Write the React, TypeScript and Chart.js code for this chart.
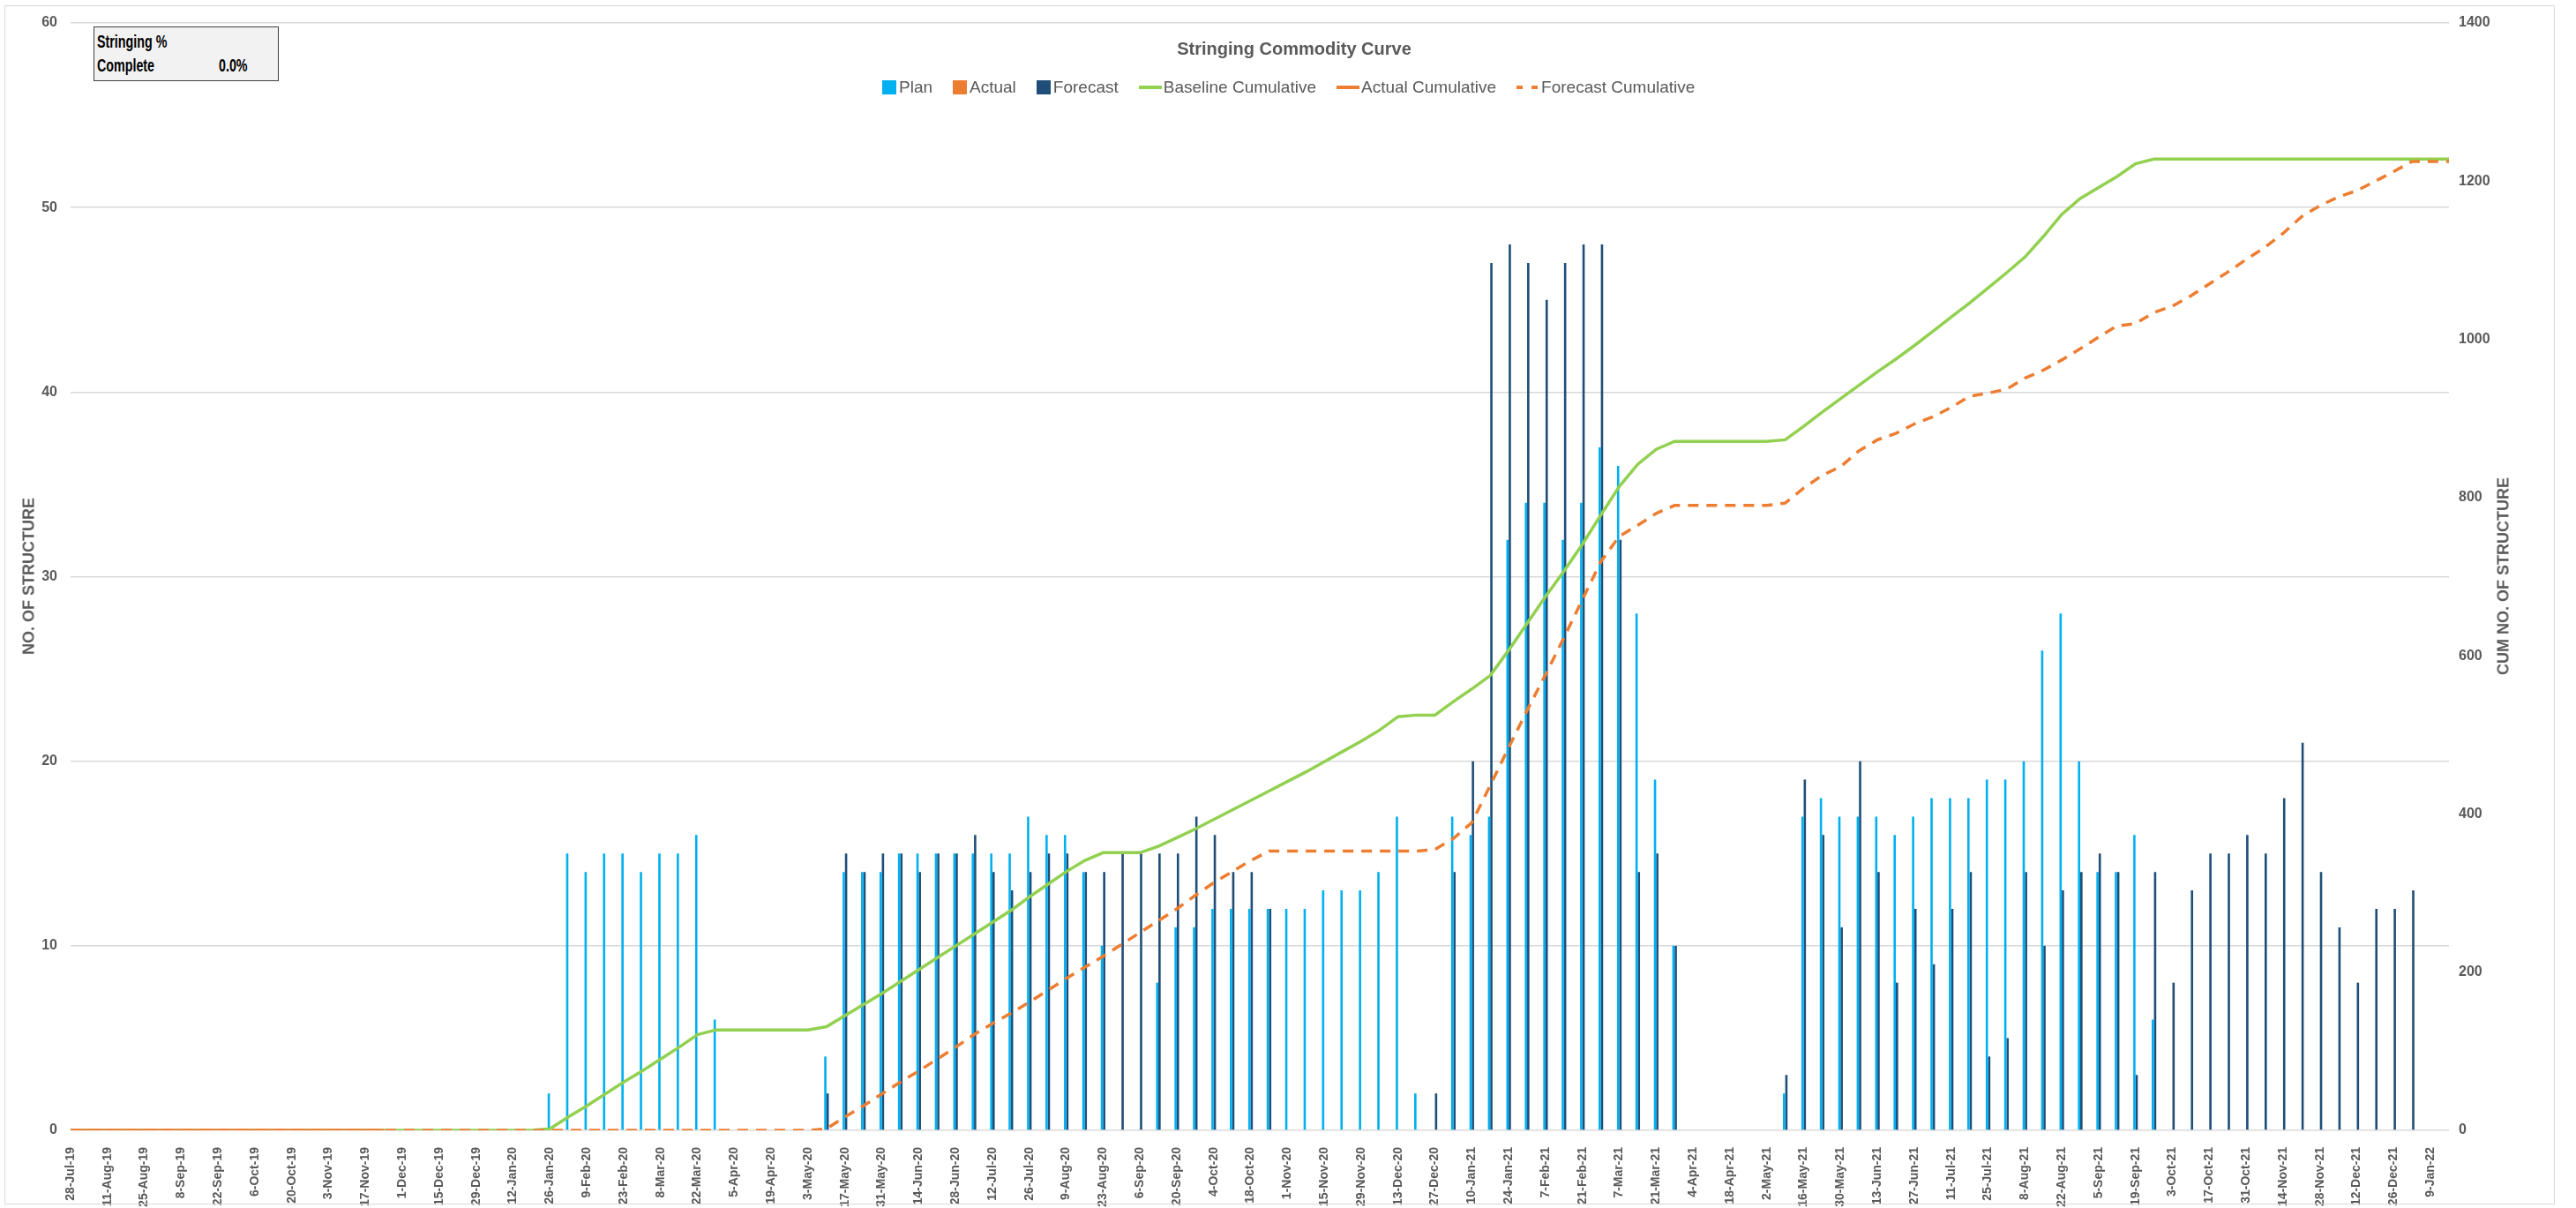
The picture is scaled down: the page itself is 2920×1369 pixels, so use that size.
import React, { useEffect, useRef } from "react";
import { Chart, registerables } from "chart.js";

Chart.register(...registerables);

// ---------- DATA ----------
const categories = [
  "28-Jul-19","4-Aug-19","11-Aug-19","18-Aug-19","25-Aug-19","1-Sep-19","8-Sep-19","15-Sep-19","22-Sep-19","29-Sep-19",
  "6-Oct-19","13-Oct-19","20-Oct-19","27-Oct-19","3-Nov-19","10-Nov-19","17-Nov-19","24-Nov-19","1-Dec-19","8-Dec-19",
  "15-Dec-19","22-Dec-19","29-Dec-19","5-Jan-20","12-Jan-20","19-Jan-20","26-Jan-20","2-Feb-20","9-Feb-20","16-Feb-20",
  "23-Feb-20","1-Mar-20","8-Mar-20","15-Mar-20","22-Mar-20","29-Mar-20","5-Apr-20","12-Apr-20","19-Apr-20","26-Apr-20",
  "3-May-20","10-May-20","17-May-20","24-May-20","31-May-20","7-Jun-20","14-Jun-20","21-Jun-20","28-Jun-20","5-Jul-20",
  "12-Jul-20","19-Jul-20","26-Jul-20","2-Aug-20","9-Aug-20","16-Aug-20","23-Aug-20","30-Aug-20","6-Sep-20","13-Sep-20",
  "20-Sep-20","27-Sep-20","4-Oct-20","11-Oct-20","18-Oct-20","25-Oct-20","1-Nov-20","8-Nov-20","15-Nov-20","22-Nov-20",
  "29-Nov-20","6-Dec-20","13-Dec-20","20-Dec-20","27-Dec-20","3-Jan-21","10-Jan-21","17-Jan-21","24-Jan-21","31-Jan-21",
  "7-Feb-21","14-Feb-21","21-Feb-21","28-Feb-21","7-Mar-21","14-Mar-21","21-Mar-21","28-Mar-21","4-Apr-21","11-Apr-21",
  "18-Apr-21","25-Apr-21","2-May-21","9-May-21","16-May-21","23-May-21","30-May-21","6-Jun-21","13-Jun-21","20-Jun-21",
  "27-Jun-21","4-Jul-21","11-Jul-21","18-Jul-21","25-Jul-21","1-Aug-21","8-Aug-21","15-Aug-21","22-Aug-21","29-Aug-21",
  "5-Sep-21","12-Sep-21","19-Sep-21","26-Sep-21","3-Oct-21","10-Oct-21","17-Oct-21","24-Oct-21","31-Oct-21","7-Nov-21",
  "14-Nov-21","21-Nov-21","28-Nov-21","5-Dec-21","12-Dec-21","19-Dec-21","26-Dec-21","2-Jan-22","9-Jan-22","16-Jan-22",
];

const plan = [
  0,0,0,0,0,0,0,0,0,0,
  0,0,0,0,0,0,0,0,0,0,
  0,0,0,0,0,0,2,15,14,15,
  15,14,15,15,16,6,0,0,0,0,
  0,4,14,14,14,15,15,15,15,15,
  15,15,17,16,16,14,10,0,0,8,
  11,11,12,12,12,12,12,12,13,13,
  13,14,17,2,0,17,16,17,32,34,
  34,32,34,37,36,28,19,10,0,0,
  0,0,0,2,17,18,17,17,17,16,
  17,18,18,18,19,19,20,26,28,20,
  14,14,16,6,0,0,0,0,0,0,
  0,0,0,0,0,0,0,0,0,0,
];

const actual = [
  0,0,0,0,0,0,0,0,0,0,
  0,0,0,0,0,0,0,0,0,0,
  0,0,0,0,0,0,0,0,0,0,
  0,0,0,0,0,0,0,0,0,0,
  0,0,0,0,0,0,0,0,0,0,
  0,0,0,0,0,0,0,0,0,0,
  0,0,0,0,0,0,0,0,0,0,
  0,0,0,0,0,0,0,0,0,0,
  0,0,0,0,0,0,0,0,0,0,
  0,0,0,0,0,0,0,0,0,0,
  0,0,0,0,0,0,0,0,0,0,
  0,0,0,0,0,0,0,0,0,0,
  0,0,0,0,0,0,0,0,0,0,
];

const forecast = [
  0,0,0,0,0,0,0,0,0,0,
  0,0,0,0,0,0,0,0,0,0,
  0,0,0,0,0,0,0,0,0,0,
  0,0,0,0,0,0,0,0,0,0,
  0,2,15,14,15,15,14,15,15,16,
  14,13,14,15,15,14,14,15,15,15,
  15,17,16,14,14,12,0,0,0,0,
  0,0,0,0,2,14,20,47,48,47,
  45,47,48,48,32,14,15,10,0,0,
  0,0,0,3,19,16,11,20,14,8,
  12,9,12,14,4,5,14,10,13,14,
  15,14,3,14,8,13,15,15,16,15,
  18,21,14,11,8,12,12,13,0,0,
];

const baselineCumulative = [
  0,0,0,0,0,0,0,0,0,0,
  0,0,0,0,0,0,0,0,0,0,
  0,0,0,0,0,0,2,17,31,46,
  61,75,90,105,121,127,127,127,127,127,
  127,131,145,159,173,188,203,218,233,248,
  263,278,295,311,327,341,351,351,351,359,
  370,381,393,405,417,429,441,453,466,479,
  492,506,523,525,525,542,558,575,607,641,
  675,707,741,778,814,842,861,871,871,871,
  871,871,871,873,890,908,925,942,959,975,
  992,1010,1028,1046,1065,1084,1104,1130,1158,1178,
  1192,1206,1222,1228,1228,1228,1228,1228,1228,1228,
  1228,1228,1228,1228,1228,1228,1228,1228,1228,1228,
];

const actualCumulative = [
  0,0,0,0,0,0,0,0,0,0,
  0,0,0,0,0,0,0,0,null,null,
  null,null,null,null,null,null,null,null,null,null,
  null,null,null,null,null,null,null,null,null,null,
  null,null,null,null,null,null,null,null,null,null,
  null,null,null,null,null,null,null,null,null,null,
  null,null,null,null,null,null,null,null,null,null,
  null,null,null,null,null,null,null,null,null,null,
  null,null,null,null,null,null,null,null,null,null,
  null,null,null,null,null,null,null,null,null,null,
  null,null,null,null,null,null,null,null,null,null,
  null,null,null,null,null,null,null,null,null,null,
  null,null,null,null,null,null,null,null,null,null,
];

const forecastCumulative = [
  0,0,0,0,0,0,0,0,0,0,
  0,0,0,0,0,0,0,0,0,0,
  0,0,0,0,0,0,0,0,0,0,
  0,0,0,0,0,0,0,0,0,0,
  0,2,17,31,46,61,75,90,105,121,
  135,148,162,177,192,206,220,235,250,265,
  280,297,313,327,341,353,353,353,353,353,
  353,353,353,353,355,369,389,436,484,531,
  576,623,671,719,751,765,780,790,790,790,
  790,790,790,793,812,828,839,859,873,881,
  893,902,914,928,932,937,951,961,974,988,
  1003,1017,1020,1034,1042,1055,1070,1085,1101,1116,
  1134,1155,1169,1180,1188,1200,1212,1225,1225,1225,
];

const leftAxisRange = [0, 60, 10];      // min, max, step
const rightAxisRange = [0, 1400, 200];  // min, max, step
const chartTitle = "Stringing Commodity Curve";
const leftAxisTitle = "NO. OF STRUCTURE";
const rightAxisTitle = "CUM NO. OF STRUCTURE";
const infoBoxLines = ["Stringing %", "Complete"];
const infoBoxValue = "0.0%";

// ---------- STYLE ----------
const C_PLAN = "#00B0F0";
const C_ACTUAL = "#ED7D31";
const C_FORECAST = "#1F4E79";
const C_BASE = "#92D050";
const C_TEXT = "#595959";
const SANS = '"Liberation Sans", Arial, sans-serif';
const W = 2920;
const H = 1369;

const legendItems = [
  { label: "Plan", kind: "box", color: C_PLAN },
  { label: "Actual", kind: "box", color: C_ACTUAL },
  { label: "Forecast", kind: "box", color: C_FORECAST },
  { label: "Baseline Cumulative", kind: "line", color: C_BASE },
  { label: "Actual Cumulative", kind: "line", color: C_ACTUAL },
  { label: "Forecast Cumulative", kind: "dash", color: C_ACTUAL },
];

export default function App() {
  const canvasRef = useRef<HTMLCanvasElement | null>(null);

  useEffect(() => {
    document.body.style.margin = "0";
    const canvas = canvasRef.current;
    if (!canvas) return;
    const chart = new Chart(canvas, {
      type: "bar",
      data: {
        labels: categories,
        datasets: [
          {
            type: "line",
            label: "Forecast Cumulative",
            data: forecastCumulative,
            yAxisID: "y1",
            borderColor: C_ACTUAL,
            backgroundColor: C_ACTUAL,
            borderWidth: 3.5,
            borderDash: [12, 9],
            pointRadius: 0,
            tension: 0,
            fill: false,
            order: 0,
          } as any,
          {
            type: "line",
            label: "Actual Cumulative",
            data: actualCumulative,
            yAxisID: "y1",
            borderColor: C_ACTUAL,
            backgroundColor: C_ACTUAL,
            borderWidth: 3.5,
            pointRadius: 0,
            tension: 0,
            fill: false,
            spanGaps: false,
            order: 1,
          } as any,
          {
            type: "line",
            label: "Baseline Cumulative",
            data: baselineCumulative,
            yAxisID: "y1",
            borderColor: C_BASE,
            backgroundColor: C_BASE,
            borderWidth: 3.5,
            pointRadius: 0,
            tension: 0,
            fill: false,
            order: 2,
          } as any,
          {
            type: "bar",
            label: "Plan",
            data: plan,
            yAxisID: "y",
            backgroundColor: C_PLAN,
            categoryPercentage: 0.25,
            barPercentage: 1.0,
            order: 3,
          } as any,
          {
            type: "bar",
            label: "Actual",
            data: actual,
            yAxisID: "y",
            backgroundColor: C_ACTUAL,
            categoryPercentage: 0.25,
            barPercentage: 1.0,
            grouped: false,
            order: 3,
          } as any,
          {
            type: "bar",
            label: "Forecast",
            data: forecast,
            yAxisID: "y",
            backgroundColor: C_FORECAST,
            categoryPercentage: 0.25,
            barPercentage: 1.0,
            order: 3,
          } as any,
        ],
      },
      options: {
        responsive: false,
        animation: false,
        devicePixelRatio: 1,
        layout: { padding: { top: 26, left: 0, right: 0, bottom: 0 } },
        plugins: {
          legend: { display: false },
          title: { display: false },
          tooltip: { enabled: false },
        },
        scales: {
          x: {
            type: "category",
            offset: false,
            grid: { display: false, drawTicks: false },
            border: { display: false },
            ticks: {
              autoSkip: false,
              maxRotation: 90,
              minRotation: 90,
              padding: 19,
              color: C_TEXT,
              font: { family: SANS, size: 14, weight: "bold" },
              callback: function (this: any, val: any, index: number) {
                return index % 2 === 0 ? this.getLabelForValue(val) : "";
              },
            },
            afterFit: (s: any) => {
              s.height = H - 1281;
            },
          },
          y: {
            type: "linear",
            position: "left",
            min: leftAxisRange[0],
            max: leftAxisRange[1],
            ticks: {
              stepSize: leftAxisRange[2],
              padding: 15,
              color: C_TEXT,
              font: { family: SANS, size: 16, weight: "bold" },
              callback: (v: any) => String(v),
            },
            grid: { color: "#D9D9D9", lineWidth: 1.5, drawTicks: false },
            border: { display: false },
            afterFit: (s: any) => {
              s.width = 80;
            },
          },
          y1: {
            type: "linear",
            position: "right",
            min: rightAxisRange[0],
            max: rightAxisRange[1],
            ticks: {
              stepSize: rightAxisRange[2],
              padding: 11,
              color: C_TEXT,
              font: { family: SANS, size: 16, weight: "bold" },
              callback: (v: any) => String(v),
            },
            grid: { display: false, drawTicks: false },
            border: { display: false },
            afterFit: (s: any) => {
              s.width = W - 2776;
            },
          },
        },
      } as any,
    });
    return () => chart.destroy();
  }, []);

  const narrowText = (t: string) => (
    <span style={{ display: "inline-block", transform: "scaleX(0.68)", transformOrigin: "left center", whiteSpace: "nowrap" }}>{t}</span>
  );

  return (
    <div style={{ position: "relative", width: W, height: H, background: "#fff", overflow: "hidden" }}>
      <canvas ref={canvasRef} width={W} height={H} style={{ position: "absolute", left: 0, top: 0 }} />
      <div
        style={{
          position: "absolute",
          left: 5,
          top: 6,
          width: 2891,
          height: 1359,
          border: "1.5px solid #D9D9D9",
          boxSizing: "border-box",
          pointerEvents: "none",
        }}
      />
      {/* info box */}
      <div
        style={{
          position: "absolute",
          left: 106,
          top: 30,
          width: 210,
          height: 62,
          background: "#F2F2F2",
          border: "1.5px solid #404040",
          boxSizing: "border-box",
          fontFamily: SANS,
          fontWeight: "bold",
          fontSize: 21,
          color: "#000",
          lineHeight: "27px",
          padding: "2px 0 0 3px",
        }}
      >
        <div>{narrowText(infoBoxLines[0])}</div>
        <div style={{ position: "relative" }}>
          {narrowText(infoBoxLines[1])}
          <span style={{ position: "absolute", left: 138, top: 0 }}>{narrowText(infoBoxValue)}</span>
        </div>
      </div>
      {/* title */}
      <div
        style={{
          position: "absolute",
          left: 1467,
          top: 44,
          transform: "translateX(-50%)",
          fontFamily: SANS,
          fontWeight: "bold",
          fontSize: 20,
          color: C_TEXT,
          whiteSpace: "nowrap",
        }}
      >
        {chartTitle}
      </div>
      {/* legend */}
      <div
        style={{
          position: "absolute",
          left: 1000,
          top: 88,
          display: "flex",
          alignItems: "center",
          fontFamily: SANS,
          fontSize: 19,
          color: C_TEXT,
          whiteSpace: "nowrap",
        }}
      >
        {legendItems.map((it, i) => (
          <div key={i} style={{ display: "flex", alignItems: "center", marginRight: i < legendItems.length - 1 ? 23 : 0 }}>
            {it.kind === "box" ? (
              <span style={{ display: "inline-block", width: 16, height: 16, background: it.color, marginRight: 3 }} />
            ) : (
              <svg width={26} height={10} style={{ marginRight: 2 }}>
                <line
                  x1={0}
                  y1={5}
                  x2={26}
                  y2={5}
                  stroke={it.color}
                  strokeWidth={4}
                  strokeDasharray={it.kind === "dash" ? "7 10" : undefined}
                />
              </svg>
            )}
            <span>{it.label}</span>
          </div>
        ))}
      </div>
      {/* axis titles */}
      <div
        style={{
          position: "absolute",
          left: 33,
          top: 653,
          transform: "translate(-50%, -50%) rotate(-90deg)",
          fontFamily: SANS,
          fontWeight: "bold",
          fontSize: 18,
          color: C_TEXT,
          whiteSpace: "nowrap",
        }}
      >
        {leftAxisTitle}
      </div>
      <div
        style={{
          position: "absolute",
          left: 2838,
          top: 653,
          transform: "translate(-50%, -50%) rotate(-90deg)",
          fontFamily: SANS,
          fontWeight: "bold",
          fontSize: 18,
          color: C_TEXT,
          whiteSpace: "nowrap",
        }}
      >
        {rightAxisTitle}
      </div>
    </div>
  );
}
